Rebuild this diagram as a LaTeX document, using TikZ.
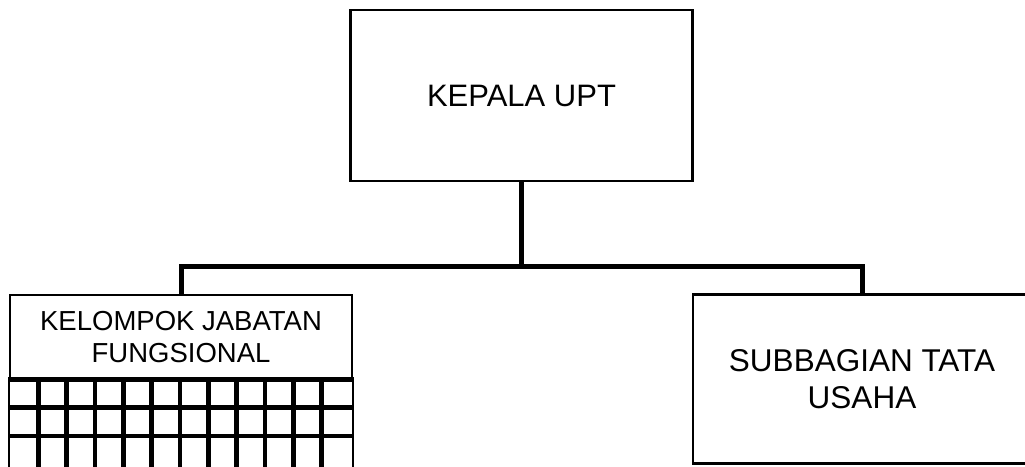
\documentclass[tikz,border=0pt]{standalone}
\usepackage{fontspec}
\setmainfont{Liberation Sans}
\usepackage{tikz}

\begin{document}
\begin{tikzpicture}[x=1pt,y=-1pt]
        \useasboundingbox (0,0) rectangle (1025,466);
        \begin{scope}[every node/.style={draw, line width=2.2pt, rectangle, align=center, inner sep=0}]
                \node[minimum width=342, minimum height=171, font=\fontsize{31}{37}\selectfont] (kepala) at (521.5,95.5) {KEPALA UPT};
                \node[minimum width=342, minimum height=84, font=\fontsize{27.5}{32.7}\selectfont] (jafung) at (181,337) {KELOMPOK JABATAN\\FUNGSIONAL};
                \node[minimum width=338, minimum height=169, font=\fontsize{31.5}{36.7}\selectfont] (tu) at (862,379) {SUBBAGIAN TATA\\USAHA};
        \end{scope}
        \begin{scope}[line width=4.5pt]
                \foreach \i in {1,...,11}
                        \draw (10+28.33*\i,379) -- (10+28.33*\i,470);
                \foreach \y in {379.3,407.7,436}
                        \draw (8,\y) -- (354,\y);
        \end{scope}
        \draw[line width=2.2pt] (jafung.south west) -- ++(0,95) (jafung.south east) -- ++(0,95);
        \coordinate (hub) at (521.5,266);
        \begin{scope}[every path/.style={line width=5pt}]
                \path (kepala.south) edge (hub);
                \draw (jafung.north) |- (hub) -| (tu.north);
        \end{scope}
\end{tikzpicture}
\end{document}
